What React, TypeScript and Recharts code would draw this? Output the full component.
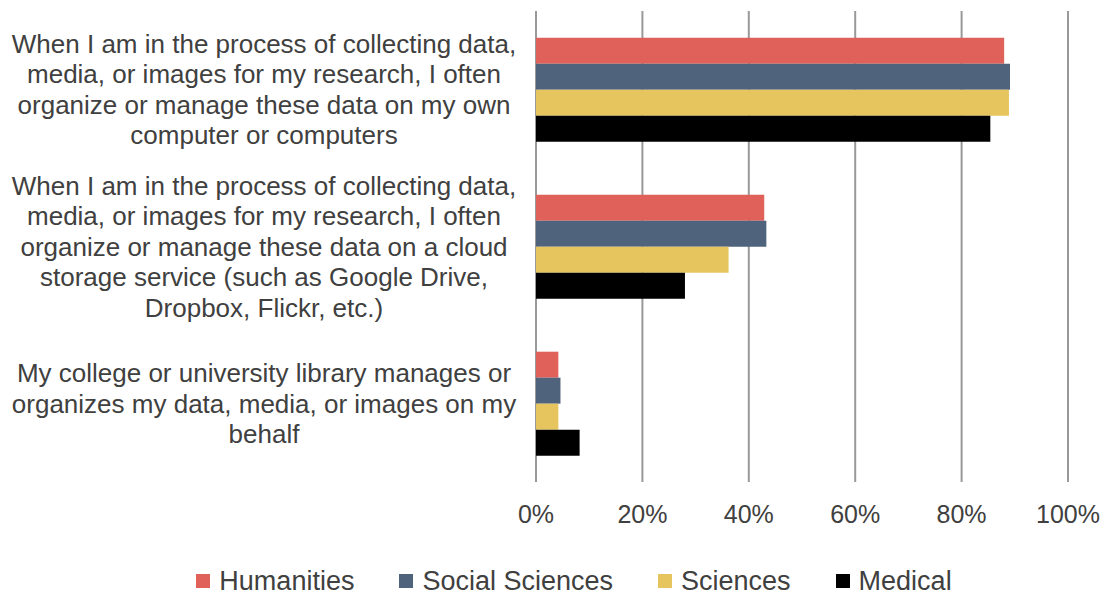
import { BarChart, Bar, XAxis, YAxis, CartesianGrid, Legend } from 'recharts';

const categories = [
  'When I am in the process of collecting data,\nmedia, or images for my research, I often\norganize or manage these data on my own\ncomputer or computers',
  'When I am in the process of collecting data,\nmedia, or images for my research, I often\norganize or manage these data on a cloud\nstorage service (such as Google Drive,\nDropbox, Flickr, etc.)',
  'My college or university library manages or\norganizes my data, media, or images on my\nbehalf',
];

const humanities = [88.0, 42.9, 4.2];
const socialSciences = [89.1, 43.3, 4.6];
const sciences = [88.9, 36.2, 4.2];
const medical = [85.4, 28.0, 8.2];

const xTicks = [0, 20, 40, 60, 80, 100];

const series = [
  { key: 'humanities', name: 'Humanities', color: '#E0605A' },
  { key: 'socialSciences', name: 'Social Sciences', color: '#50637C' },
  { key: 'sciences', name: 'Sciences', color: '#E6C55E' },
  { key: 'medical', name: 'Medical', color: '#000000' },
];

const data = categories.map((label, i) => ({
  label,
  humanities: humanities[i],
  socialSciences: socialSciences[i],
  sciences: sciences[i],
  medical: medical[i],
}));

const TEXT_COLOR = '#404040';
const LINE_HEIGHT = 30.5;

const CategoryTick = (props: any) => {
  const { y, payload } = props;
  const lines: string[] = String(payload.value).split('\n');
  const startDy = -((lines.length - 1) / 2) * LINE_HEIGHT;
  return (
    <text x={264} y={y} textAnchor="middle" fill={TEXT_COLOR} fontSize={26}>
      {lines.map((line, i) => (
        <tspan key={i} x={264} dy={i === 0 ? startDy + 9 : LINE_HEIGHT}>
          {line}
        </tspan>
      ))}
    </text>
  );
};

// legend drawn in series order (recharts sorts its payload by name otherwise)
const LegendContent = () => (
  <div
    style={{
      display: 'flex',
      justifyContent: 'center',
      alignItems: 'center',
      gap: 45,
      paddingLeft: 44,
      fontSize: 27,
      color: TEXT_COLOR,
      lineHeight: '30px',
    }}
  >
    {series.map((s) => (
      <span key={s.key} style={{ display: 'flex', alignItems: 'center' }}>
        <span
          style={{
            display: 'inline-block',
            width: 14,
            height: 14,
            marginRight: 9,
            backgroundColor: s.color,
          }}
        />
        {s.name}
      </span>
    ))}
  </div>
);

export default function App() {
  return (
    <div
      style={{
        position: 'absolute',
        left: 0,
        top: 0,
        width: 1104,
        height: 594,
        background: '#ffffff',
        fontFamily: '"Liberation Sans", Arial, sans-serif',
      }}
    >
      <BarChart
        width={1104}
        height={594}
        data={data}
        layout="vertical"
        margin={{ top: 11, right: 36, bottom: 72, left: 16 }}
        barCategoryGap="17%"
        barGap={0}
      >
        <CartesianGrid horizontal={false} stroke="#999999" strokeWidth={2} />
        <XAxis
          type="number"
          domain={[0, 100]}
          ticks={xTicks}
          tickFormatter={(v) => `${v}%`}
          axisLine={false}
          tickLine={false}
          height={40}
          tickMargin={17}
          tick={{ fill: TEXT_COLOR, fontSize: 25 }}
        />
        <YAxis
          type="category"
          dataKey="label"
          width={520}
          axisLine={false}
          tickLine={false}
          tick={<CategoryTick />}
          interval={0}
        />
        <Legend
          layout="horizontal"
          verticalAlign="middle"
          align="center"
          wrapperStyle={{ top: 566, left: 0, width: 1104 }}
          content={<LegendContent />}
        />
        {series.map((s) => (
          <Bar key={s.key} dataKey={s.key} name={s.name} fill={s.color} isAnimationActive={false} />
        ))}
      </BarChart>
    </div>
  );
}
